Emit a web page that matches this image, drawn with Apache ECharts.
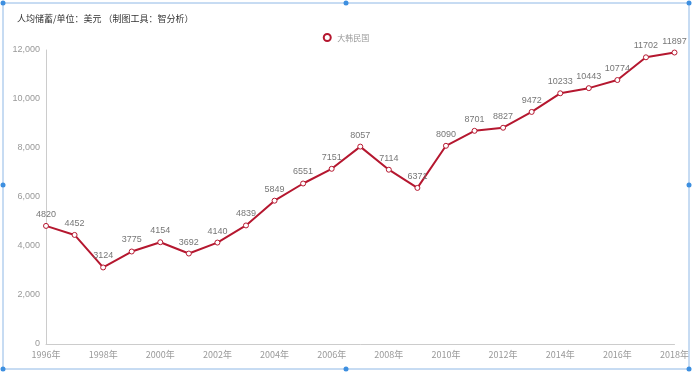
<!DOCTYPE html>
<html><head><meta charset="utf-8">
<script src="https://cdn.jsdelivr.net/npm/echarts@6/dist/echarts.min.js"></script>
<style>html,body{margin:0;padding:0;background:#fff}#c{width:692px;height:374px}</style>
</head><body><div id="c"></div>
<script>
var years = ['1996年','1997年','1998年','1999年','2000年','2001年','2002年','2003年','2004年','2005年','2006年','2007年','2008年','2009年','2010年','2011年','2012年','2013年','2014年','2015年','2016年','2017年','2018年'];
var korea = [4820,4452,3124,3775,4154,3692,4140,4839,5849,6551,7151,8057,7114,6371,8090,8701,8827,9472,10233,10443,10774,11702,11897];
var seriesName = '大韩民国';
var titleText = '人均储蓄/单位：美元 （制图工具：智分析）';

var chart = echarts.init(document.getElementById('c'));
var frameColor = '#8fb8e6';
function dot(x,y){return {type:'circle',shape:{cx:x,cy:y,r:2.5},style:{fill:'#3d8fe0'},z:100};}
chart.setOption({
  animation:false,
  title:{text:titleText,left:12,top:9,textStyle:{fontSize:9,fontWeight:'normal',color:'#333',fontFamily:'Noto Sans CJK SC'}},
  legend:{data:[seriesName],top:28,left:'center',itemWidth:10,itemHeight:7,icon:'circle',itemGap:4,
    textStyle:{fontSize:8,color:'#999',fontFamily:'Noto Sans CJK SC'}},
  grid:{left:46,right:10,top:50,bottom:30,containLabel:false},
  xAxis:{type:'category',data:years,boundaryGap:false,
    axisLine:{lineStyle:{color:'#ccc'}},axisTick:{show:false},
    axisLabel:{interval:1,color:'#999',fontSize:9,fontFamily:'Noto Sans CJK SC',margin:6}},
  yAxis:{type:'value',min:0,max:12000,interval:2000,
    axisLine:{show:true,lineStyle:{color:'#ccc'}},axisTick:{show:false},splitLine:{show:false},
    axisLabel:{color:'#999',fontSize:9,formatter:function(v){return v.toLocaleString('en-US');},margin:6}},
  series:[{name:seriesName,type:'line',data:korea,symbol:'circle',symbolSize:5,
    itemStyle:{color:'#fff',borderColor:'#b5172f',borderWidth:1},
    lineStyle:{color:'#b5172f',width:2},
    label:{show:true,position:'top',color:'#777',fontSize:9,distance:4}}],
  color:['#b5172f'],
  graphic:[
    {type:'rect',shape:{x:3,y:3,width:686,height:366},style:{fill:null,stroke:frameColor,lineWidth:1},z:99,silent:true},
    dot(3,3),dot(346,3),dot(689,3),dot(3,185),dot(689,185),dot(3,369),dot(346,369),dot(689,369)
  ]
});
</script></body></html>
